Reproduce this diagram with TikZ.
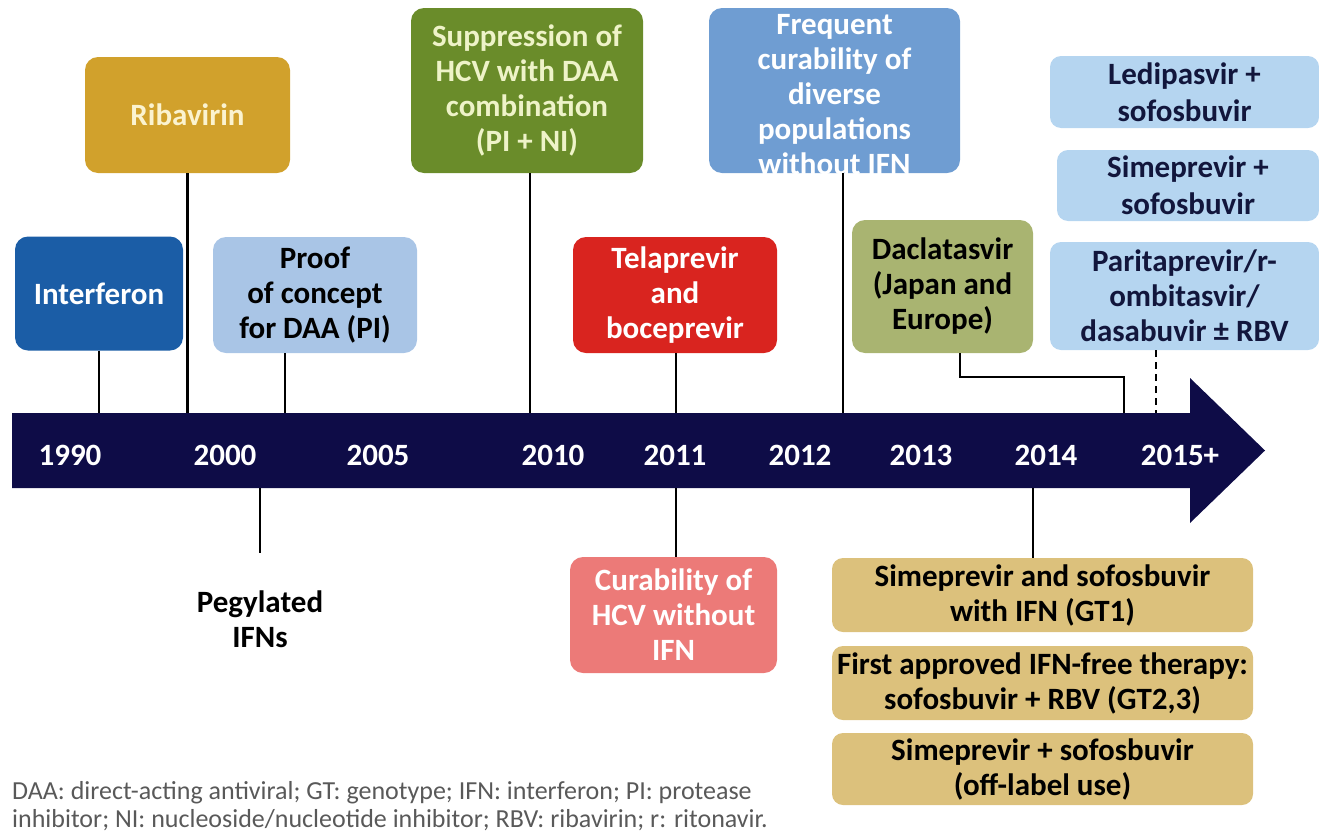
\documentclass[tikz,border=0pt]{standalone}
\usepackage{fontspec}
\setmainfont{Carlito}
\begin{document}
\begin{tikzpicture}[x=1pt,y=-1pt,
  box/.style={rounded corners=13pt, align=center, inner sep=0pt,
    font=\bfseries\fontsize{31}{35}\selectfont},
  yr/.style={text=white, font=\bfseries\fontsize{31}{35}\selectfont},
  conn/.style={line width=2.6pt, black}]
\useasboundingbox (0,0) rectangle (1319,833);
\definecolor{navy}{HTML}{0E0C47}
\definecolor{cIntf}{HTML}{1B5DA6}
\definecolor{cRiba}{HTML}{D1A12C}
\definecolor{cProof}{HTML}{A9C5E6}
\definecolor{cSupp}{HTML}{6A8C2A}
\definecolor{cTela}{HTML}{D9241F}
\definecolor{cFreq}{HTML}{6F9DD2}
\definecolor{cDacl}{HTML}{A9B471}
\definecolor{cLight}{HTML}{B5D5F0}
\definecolor{cCur}{HTML}{EC7A78}
\definecolor{cTan}{HTML}{DCC17C}
\definecolor{cDark}{HTML}{12163C}
\definecolor{cCream}{HTML}{FBF3D0}
\definecolor{cLime}{HTML}{EEF3C8}
% timeline arrow
\fill[navy] (12,413) -- (1190,413) -- (1190,378) -- (1265,450.5) -- (1190,523) -- (1190,488) -- (12,488) -- cycle;
\node[yr] (y1990) at (70,455) {1990};
\node[yr] (y2000) at (225,455) {2000};
\node[yr] (y2005) at (378,455) {2005};
\node[yr] (y2010) at (553,455) {2010};
\node[yr] (y2011) at (675,455) {2011};
\node[yr] (y2012) at (800,455) {2012};
\node[yr] (y2013) at (921,455) {2013};
\node[yr] (y2014) at (1046,455) {2014};
\node[yr] (y2015) at (1180,455) {2015+};
% coordinates on the bar
\coordinate (t1) at (99,413);
\coordinate (t2) at (187.5,413);
\coordinate (t3) at (285,413);
\coordinate (t4) at (530,413);
\coordinate (t5) at (676,413);
\coordinate (t6) at (843,413);
\coordinate (t7) at (1124,413);
\coordinate (t8) at (1156,413);
\coordinate (b1) at (260,488);
\coordinate (b2) at (676,488);
\coordinate (b3) at (1033,488);
% upper boxes
\node[box, fill=cIntf, text=white, minimum width=168pt, minimum height=114pt] (intf) at (99,293.5) {Interferon};
\node[box, fill=cRiba, text=cCream, minimum width=205pt, minimum height=116pt] (riba) at (187.5,115) {Ribavirin};
\node[box, fill=cProof, text=black, minimum width=204pt, minimum height=116pt] (proof) at (315,295) {Proof\\of concept\\for DAA (PI)};
\node[box, fill=cSupp, text=cLime, minimum width=232pt, minimum height=165pt] (supp) at (527,90.5) {Suppression of\\HCV with DAA\\combination\\(PI + NI)};
\node[box, fill=cTela, text=white, minimum width=204pt, minimum height=116pt] (tela) at (675,295) {Telaprevir\\and\\boceprevir};
\node[box, fill=cFreq, text=white, minimum width=251pt, minimum height=165pt] (freq) at (834.5,90.5) {};
\node[text=white, align=center, inner sep=0pt, font=\bfseries\fontsize{31}{35}\selectfont] (freqt) at (834.5,95) {Frequent\\curability of\\diverse\\populations\\without IFN};
\node[box, fill=cDacl, text=black, minimum width=181pt, minimum height=133pt] (dacl) at (942.5,286.5) {Daclatasvir\\(Japan and\\Europe)};
\node[box, fill=cLight, text=cDark, minimum width=269pt, minimum height=72pt, rounded corners=11pt, font=\bfseries\fontsize{31}{37}\selectfont] (ledi) at (1184.5,92) {Ledipasvir +\\sofosbuvir};
\node[box, fill=cLight, text=cDark, minimum width=262pt, minimum height=71pt, rounded corners=11pt, font=\bfseries\fontsize{31}{37}\selectfont] (sime) at (1188,185.5) {Simeprevir +\\sofosbuvir};
\node[box, fill=cLight, text=cDark, minimum width=269pt, minimum height=108pt, rounded corners=11pt] (pari) at (1184.5,296) {Paritaprevir/r-\\ombitasvir/\\dasabuvir ± RBV};
% lower boxes
\node[align=center, text=black, inner sep=0pt, font=\bfseries\fontsize{31}{35}\selectfont] (peg) at (260,619) {Pegylated\\IFNs};
\node[box, fill=cCur, text=white, minimum width=207pt, minimum height=116pt] (cur) at (673.5,615) {Curability of\\HCV without\\IFN};
\node[box, fill=cTan, text=black, minimum width=421pt, minimum height=74pt, rounded corners=11pt] (s1) at (1042.5,595) {Simeprevir and sofosbuvir\\with IFN (GT1)};
\node[box, fill=cTan, text=black, minimum width=421pt, minimum height=74pt, rounded corners=11pt] (s2) at (1042.5,683) {First approved IFN-free therapy:\\sofosbuvir + RBV (GT2,3)};
\node[box, fill=cTan, text=black, minimum width=421pt, minimum height=72pt, rounded corners=11pt] (s3) at (1042.5,769) {Simeprevir + sofosbuvir\\(off-label use)};
% connectors
\draw[conn] (intf.south) -- (t1);
\draw[conn] (riba.south) -- (t2);
\draw[conn] (proof.south -| t3) -- (t3);
\draw[conn] (supp.south -| t4) -- (t4);
\draw[conn] (tela.south -| t5) -- (t5);
\draw[conn] (freq.south -| t6) -- (t6);
\draw[conn] (dacl.south -| 960,0) -- (960,377) -- (1124,377) -- (t7);
\draw[conn, dash pattern=on 7pt off 5pt] (pari.south -| t8) -- (t8);
\draw[conn] (b1) -- (260,553) coordinate (pegtop);
\draw[conn] (b2) -- (cur.north -| b2);
\draw[conn] (b3) -- (s1.north -| b3);
% footnote
\node[anchor=west, align=left, inner sep=0pt, text=black!65, font=\fontsize{26}{28}\selectfont] (foot) at (12,806) {DAA: direct-acting antiviral; GT: genotype; IFN: interferon; PI: protease\\inhibitor; NI: nucleoside/nucleotide inhibitor; RBV: ribavirin; r: ritonavir.};
\end{tikzpicture}
\end{document}
